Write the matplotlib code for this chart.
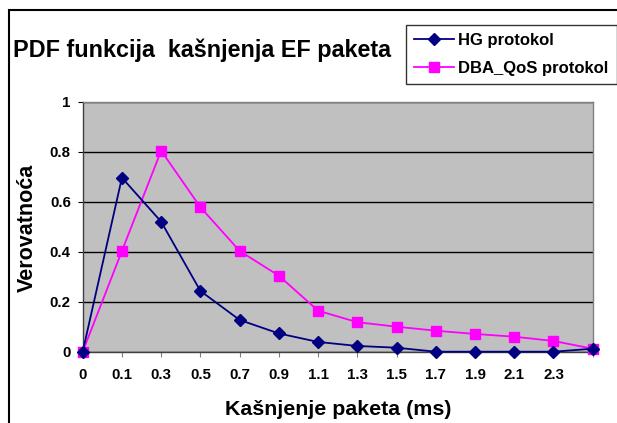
import matplotlib.pyplot as plt
import numpy as np
from matplotlib.patches import Rectangle

plt.rcParams['font.family'] = ['Liberation Sans', 'DejaVu Sans']
plt.rcParams['font.weight'] = 'bold'

# category labels on the x axis (last category has no label)
categories = ["0", "0.1", "0.3", "0.5", "0.7", "0.9", "1.1", "1.3",
              "1.5", "1.7", "1.9", "2.1", "2.3", ""]
hg_values = [0, 0.696, 0.52, 0.243, 0.127, 0.073, 0.039, 0.023,
             0.016, 0, 0, 0, 0, 0.012]
dba_values = [0, 0.403, 0.804, 0.578, 0.403, 0.304, 0.164, 0.118,
              0.10, 0.084, 0.071, 0.06, 0.043, 0.012]
y_ticks = [0, 0.2, 0.4, 0.6, 0.8, 1]
y_labels = ["0", "0.2", "0.4", "0.6", "0.8", "1"]

W, H = 617, 423
fig = plt.figure(figsize=(W / 100, H / 100), dpi=100)

# outer chart frame (cut off on the right and bottom like the screenshot)
fig.patches.append(Rectangle((8.5 / W, -0.1), 1.2, 1.1 - 10.5 / H,
                             transform=fig.transFigure, fill=False,
                             edgecolor='black', linewidth=1.5))

left, right, top, bottom = 82.7, 592.7, 101.7, 351.7
ax = fig.add_axes([left / W, 1 - bottom / H, (right - left) / W, (bottom - top) / H])
ax.set_facecolor('#c0c0c0')

x = np.arange(len(categories))
ax.plot(x, hg_values, color='#000080', marker='D', markersize=6,
        linewidth=1.3, label='HG protokol', clip_on=False, zorder=4)
ax.plot(x, dba_values, color='#ff00ff', marker='s', markersize=6.8,
        linewidth=1.3, label='DBA_QoS protokol', clip_on=False, zorder=3)

ax.set_xlim(0, len(categories) - 1)
ax.set_ylim(0, 1)
ax.set_xticks(x)
ax.set_xticklabels(categories, fontsize=10.8, fontweight='bold')
ax.set_yticks(y_ticks)
ax.set_yticklabels(y_labels, fontsize=10.8, fontweight='bold')
ax.tick_params(axis='x', length=3.6, color='#808080', pad=8)
ax.tick_params(axis='y', length=3.6, color='black', pad=5)
ax.yaxis.grid(True, color='black', linewidth=1)
ax.set_axisbelow(True)

for side in ['top', 'right']:
    ax.spines[side].set_color('#808080')
for side in ['left', 'bottom']:
    ax.spines[side].set_color('#404040')
for s in ax.spines.values():
    s.set_linewidth(1)

# axis titles placed in figure pixels, like the Excel chart
fig.text(338 / W, 1 - 415 / H, 'Kašnjenje paketa (ms)', fontsize=15.4,
         fontweight='bold', ha='center', va='baseline')
fig.text(27 / W, 1 - 228 / H, 'Verovatnoća', fontsize=15.5, rotation=90,
         fontweight='bold', ha='center', va='center')

fig.text(13 / W, 1 - 57 / H, 'PDF funkcija  kašnjenja EF paketa',
         fontsize=16.8, fontweight='bold', va='baseline', ha='left')

leg = fig.legend(loc='upper left', bbox_to_anchor=(406 / W, 1 - 25 / H),
                 borderaxespad=0, fontsize=12, frameon=True, fancybox=False,
                 edgecolor='black', handlelength=2.4, labelspacing=0.75,
                 borderpad=0.5, handletextpad=0.25)
leg.get_frame().set_linewidth(1)
for t in leg.get_texts():
    t.set_fontweight('bold')

fig.savefig('out.png', dpi=100)
